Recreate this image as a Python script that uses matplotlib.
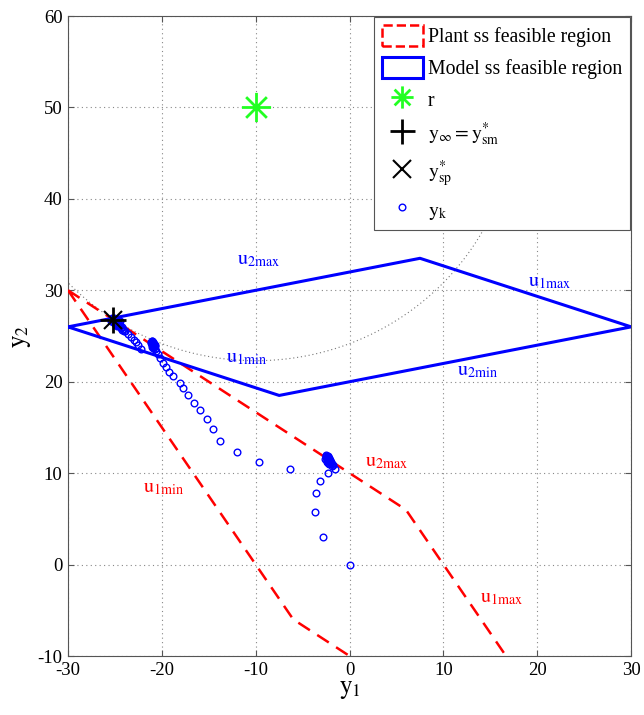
import numpy as np
import matplotlib
matplotlib.use("Agg")
import matplotlib.pyplot as plt
from matplotlib.patches import Patch
from matplotlib.lines import Line2D
from matplotlib.path import Path

plt.rcParams['font.family'] = ['Liberation Serif', 'DejaVu Serif']
plt.rcParams['mathtext.fontset'] = 'stix'
plt.rcParams['axes.unicode_minus'] = False

# ---------------- data ----------------
plant_y1 = [-30, 6, 30, -6, -30]
plant_y2 = [30, 6, -30, -6, 30]

model_y1 = [-30, 7.5, 30, -7.5, -30]
model_y2 = [26, 33.5, 26, 18.5, 26]

r_point = (-10, 50)
y_inf = (-25.2, 26.8)
y_sp = (-25.2, 26.8)

circle_center = (-10, 50)
circle_radius = 27.7

yk_y1 = [0.0, -2.8, -3.7, -3.6, -3.1, -2.3, -1.6,
         -1.8, -1.9, -2.0, -2.1, -2.2, -2.3, -2.35, -2.4, -2.45, -2.5, -2.3, -2.2, -2.4,
         -2.1, -2.25, -2.35, -2.5, -2.6, -2.0, -1.9, -2.2,
         -2.15, -2.3, -2.4, -2.05, -2.55, -2.45, -2.3, -2.2,
         -6.3, -9.7, -12.0, -13.8, -14.5, -15.2, -15.9, -16.6, -17.2, -17.8, -18.1,
         -18.8, -19.2, -19.6, -19.9, -20.2, -20.4, -20.6,
         -20.7, -20.8, -20.9, -21.0, -21.1, -21.0, -20.8, -20.9, -21.2, -21.1, -20.7, -21.0,
         -20.85, -20.95, -21.05, -20.75, -21.15, -20.9,
         -22.2, -22.5, -22.8, -23.0, -23.3, -23.6, -23.9, -24.1,
         -24.3, -24.5, -24.7, -24.8, -24.9, -25.0, -25.1, -25.2, -25.0, -24.6, -24.4, -25.3, -25.1,
         -24.9, -24.7, -24.5, -25.4, -25.2, -24.8, -24.2, -24.0,
         -25.05, -24.95, -24.85, -25.15, -24.65, -24.75, -25.25, -24.35]
yk_y2 = [0.0, 3.0, 5.7, 7.8, 9.1, 10.0, 10.5,
         10.9, 11.0, 11.1, 11.2, 11.3, 11.4, 11.5, 11.6, 11.7, 11.8, 11.6, 11.5, 11.3,
         11.4, 11.8, 11.9, 12.0, 11.6, 11.2, 10.8, 11.0,
         11.55, 11.75, 11.45, 11.35, 11.85, 11.25, 11.15, 11.65,
         10.5, 11.2, 12.3, 13.5, 14.8, 15.9, 16.9, 17.7, 18.6, 19.3, 19.9,
         20.6, 21.1, 21.6, 22.1, 22.6, 23.0, 23.4,
         23.6, 23.8, 23.9, 24.0, 24.1, 24.2, 24.1, 23.7, 24.3, 24.4, 24.0, 24.5,
         24.15, 24.35, 23.85, 23.95, 24.25, 24.05,
         23.6, 24.0, 24.3, 24.6, 24.9, 25.2, 25.5, 25.8,
         26.0, 26.2, 26.4, 26.5, 26.6, 26.7, 26.8, 26.8, 26.5, 26.1, 25.9, 27.0, 27.0,
         26.9, 26.8, 26.6, 26.6, 26.5, 26.2, 25.7, 25.5,
         26.55, 26.35, 26.45, 26.65, 26.25, 26.05, 26.9, 25.85]

model_labels = [("u", "2max", -12.0, 33.3), ("u", "1max", 19.0, 30.9),
                ("u", "1min", -13.2, 22.6), ("u", "2min", 11.4, 21.2)]
plant_labels = [("u", "2max", 1.6, 11.2), ("u", "1min", -22.0, 8.4),
                ("u", "1max", 13.9, -3.6)]

xticks = [-30, -20, -10, 0, 10, 20, 30]
yticks = [-10, 0, 10, 20, 30, 40, 50, 60]

# ---------------- figure ----------------
fig = plt.figure(figsize=(6.44, 7.15), dpi=100)
ax = fig.add_axes([0.1056, 0.0825, 0.8745, 0.8951])

red = '#ff0000'
blue = '#0000ff'
green = '#22ff22'

# circle (dotted)
th = np.linspace(0, 2 * np.pi, 400)
ax.plot(circle_center[0] + circle_radius * np.cos(th),
        circle_center[1] + circle_radius * np.sin(th),
        color='#777777', ls=(0, (1, 2.5)), lw=0.8, zorder=2)

ax.plot(plant_y1, plant_y2, color=red, lw=1.8, ls=(0, (5.5, 3.5)), zorder=3)
ax.plot(model_y1, model_y2, color=blue, lw=2.2, zorder=3)

ax.plot(yk_y1, yk_y2, ls='none', marker='o', ms=4.8, mfc='none', mec=blue,
        mew=1.0, zorder=4)

ast = Path([(-1, 0), (1, 0), (0, -1), (0, 1), (-0.71, -0.71), (0.71, 0.71),
            (-0.71, 0.71), (0.71, -0.71)],
           [Path.MOVETO, Path.LINETO] * 4)

ax.plot([r_point[0]], [r_point[1]], ls='none', marker=ast, ms=21, mec=green,
        mfc='none', mew=2.0, zorder=5)
ax.plot([y_inf[0]], [y_inf[1]], ls='none', marker='+', ms=19, mec='black',
        mew=2.0, zorder=5)
ax.plot([y_sp[0]], [y_sp[1]], ls='none', marker='x', ms=13, mec='black',
        mew=1.5, zorder=5)

for base, sub, x, y in model_labels:
    ax.text(x, y, r'$\mathrm{%s}_{\mathrm{%s}}$' % (base, sub), color=blue,
            fontsize=14.5, ha='left', va='center', zorder=6)
for base, sub, x, y in plant_labels:
    ax.text(x, y, r'$\mathrm{%s}_{\mathrm{%s}}$' % (base, sub), color=red,
            fontsize=14.5, ha='left', va='center', zorder=6)

ax.set_xlim(-30, 30)
ax.set_ylim(-10, 60)
ax.set_xticks(xticks)
ax.set_yticks(yticks)
ax.tick_params(direction='in', top=True, right=True, labelsize=13.5, length=4,
               color='#555555', pad=4)
ax.grid(True, color='#888888', ls=(0, (1, 3)), lw=0.8)
for s in ax.spines.values():
    s.set_color('#555555')
    s.set_linewidth(0.8)

ax.set_xlabel(r'$\mathrm{y}_{1}$', fontsize=18, labelpad=0)
ax.set_ylabel(r'$\mathrm{y}_{2}$', fontsize=18, labelpad=3)

handles = [
    Patch(facecolor='none', edgecolor=red, linestyle='--', linewidth=1.8),
    Patch(facecolor='none', edgecolor=blue, linewidth=2.2),
    Line2D([], [], ls='none', marker=ast, ms=16, mec=green, mfc='none', mew=2.0),
    Line2D([], [], ls='none', marker='+', ms=18, mec='black', mew=2.0),
    Line2D([], [], ls='none', marker='x', ms=13, mec='black', mew=1.5),
    Line2D([], [], ls='none', marker='o', ms=4.8, mec=blue, mfc='none', mew=1.0),
]
labels = ['Plant ss feasible region', 'Model ss feasible region', 'r',
          r'$\mathrm{y}_{\infty} = \mathrm{y}^{*}_{\mathrm{sm}}$',
          r'$\mathrm{y}^{*}_{\mathrm{sp}}$', r'$\mathrm{y}_{\mathrm{k}}$']
leg = ax.legend(handles, labels, loc='upper right', fontsize=14.2,
                frameon=True, fancybox=False, edgecolor='#555555',
                framealpha=1, borderaxespad=0.05, handlelength=2.1,
                handleheight=1.25, labelspacing=0.5, handletextpad=0.25,
                borderpad=0.4)
leg.get_frame().set_linewidth(0.8)
leg.set_zorder(10)

fig.savefig('out.png', dpi=100)
